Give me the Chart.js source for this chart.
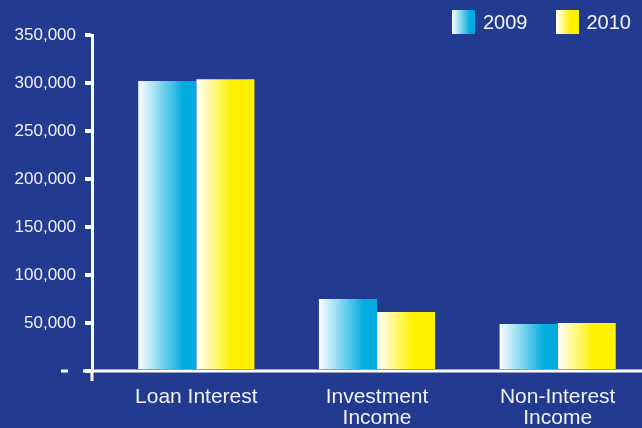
<!DOCTYPE html>
<html>
<head>
<meta charset="utf-8">
<script src="https://cdn.jsdelivr.net/npm/chart.js@4.4.1/dist/chart.umd.min.js"></script>
<style>
  html, body { margin: 0; padding: 0; background: #223a8f; overflow: hidden; }
  #wrap { position: relative; width: 642px; height: 428px; overflow: hidden; background: #223a8f; }
  #chart { position: absolute; left: 0; top: 0; }
  #legend { position: absolute; top: 10px; left: 452px; display: flex; font: 20px 'Liberation Sans', Arial, sans-serif; color: #f4f4f8; }
  .item { display: flex; align-items: center; height: 24px; line-height: 24px; margin-right: 28px; }
  .box { width: 23px; height: 24px; margin-right: 8px; }
</style>
</head>
<body>
<div id="wrap">
  <canvas id="chart" width="648" height="428"></canvas>
  <div id="legend"></div>
</div>
<script>
const categories = ['Loan Interest', ['Investment', 'Income'], ['Non-Interest', 'Income']];
const years = ['2009', '2010'];
const values2009 = [302000, 75000, 49000];
const values2010 = [304000, 61500, 50000];
const barColors = ['#00abdf', '#fff100'];
const fadeStops = [0.78, 0.62];

const FONT = "'Liberation Sans', Arial, sans-serif";
const LABEL = '#f2f2f6';

// legend is plain html so the swatches can carry the same white -> colour fade
const legendEl = document.getElementById('legend');
years.forEach((year, i) => {
    const item = document.createElement('div');
    item.className = 'item';
    const box = document.createElement('div');
    box.className = 'box';
    box.style.background = `linear-gradient(to right, #ffffff 0%, ${barColors[i]} ${fadeStops[i] * 100}%, ${barColors[i]} 100%)`;
    const txt = document.createElement('span');
    txt.textContent = year;
    item.append(box, txt);
    legendEl.appendChild(item);
});

// horizontal fade on every bar, built once the bars have their positions
const barFade = {
    id: 'barFade',
    beforeDatasetsDraw(chart) {
        const ctx = chart.ctx;
        chart.data.datasets.forEach((ds, di) => {
            chart.getDatasetMeta(di).data.forEach(bar => {
                const left = bar.x - bar.width / 2, right = bar.x + bar.width / 2;
                const g = ctx.createLinearGradient(left, 0, right, 0);
                g.addColorStop(0, '#ffffff');
                g.addColorStop(fadeStops[di], barColors[di]);
                g.addColorStop(1, barColors[di]);
                bar.options = Object.assign({}, bar.options, { backgroundColor: g });
            });
        });
    },
    afterDatasetsDraw(chart) {
        const ctx = chart.ctx;
        const y = chart.scales.y;
        const zero = y.getPixelForValue(0);
        const axisX = y.right;
        ctx.save();
        ctx.fillStyle = '#ffffff';
        // base line running out to the right edge
        ctx.fillRect(axisX - 9, zero - 1.5, chart.width - axisX + 9, 3);
        // axis stub below the base line
        ctx.fillRect(axisX - 1.5, zero, 3, 10);
        // dash standing in for the zero label
        ctx.fillRect(axisX - 31, zero - 1.5, 7, 3);
        ctx.restore();
    }
};

new Chart(document.getElementById('chart'), {
    type: 'bar',
    data: {
        labels: categories,
        datasets: [
            { label: years[0], data: values2009, backgroundColor: barColors[0], borderWidth: 0 },
            { label: years[1], data: values2010, backgroundColor: barColors[1], borderWidth: 0 }
        ]
    },
    options: {
        responsive: false,
        animation: false,
        categoryPercentage: 0.643,
        barPercentage: 1,
        layout: { padding: { top: 35, right: 0, bottom: 0, left: 0 } },
        plugins: { legend: { display: false }, tooltip: { enabled: false } },
        scales: {
            x: {
                grid: { display: false },
                border: { display: false },
                ticks: { color: LABEL, font: { family: FONT, size: 21, lineHeight: 0.98 }, padding: 8, maxRotation: 0, autoSkip: false },
                afterFit(s) { s.height = 57; }
            },
            y: {
                weight: 1,
                min: 0, max: 350000,
                ticks: {
                    stepSize: 50000,
                    color: LABEL,
                    font: { family: FONT, size: 17 },
                    padding: 9,
                    callback: v => v === 0 ? '' : v.toLocaleString('en-US')
                },
                grid: { drawOnChartArea: false, tickLength: 7, lineWidth: 4, color: '#ffffff' },
                border: { color: '#ffffff', width: 3 },
                afterFit(s) { s.width = 92; }
            },
            gap: {
                type: 'linear',
                position: 'left',
                weight: 0,
                grid: { display: false },
                border: { display: false },
                ticks: { display: false },
                afterFit(s) { s.width = 14; }
            }
        }
    },
    plugins: [barFade]
});
</script>
</body>
</html>
